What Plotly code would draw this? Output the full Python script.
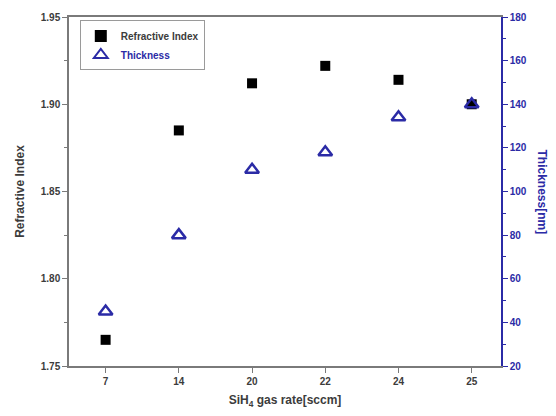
import plotly.graph_objects as go

categories = ["7", "14", "20", "22", "24", "25"]
refractive_index = [1.765, 1.885, 1.912, 1.922, 1.914, 1.900]
thickness = [45, 80, 110, 118, 134, 140]

BLUE = "#2b2ba6"
GRAY = "#3c3c3c"
AX = "#7a7a7a"

fig = go.Figure()
fig.add_trace(go.Scatter(
    x=categories, y=refractive_index, mode="markers", name="Refractive Index",
    marker=dict(symbol="square", size=10, color="black"),
))
fig.add_trace(go.Scatter(
    x=categories, y=thickness, mode="markers", name="<span style='color:#2b2ba6'>Thickness</span>", yaxis="y2",
    marker=dict(symbol="triangle-up-open", size=12, color=BLUE, line=dict(width=2.5, color=BLUE)),
))

fig.update_layout(
    width=556, height=416,
    margin=dict(l=69, r=55, t=11, b=48),
    paper_bgcolor="white", plot_bgcolor="white",
    font=dict(family="Liberation Sans, Arial", color=GRAY, size=10),
    showlegend=True,
    legend=dict(
        x=0.025, y=0.99, xanchor="left", yanchor="top",
        bordercolor="#9a9a9a", borderwidth=1, bgcolor="white",
        font=dict(size=10, color=GRAY, family="Liberation Sans, Arial", weight="bold"),
        tracegroupgap=0, itemsizing="constant", itemwidth=30,
    ),
    xaxis=dict(
        type="category", range=[-0.5, 5.4],
        showline=True, linecolor=AX, linewidth=1.5, mirror=True,
        ticks="outside", ticklen=5, tickcolor=AX,
        showgrid=False, zeroline=False,
        tickfont=dict(size=10, color=GRAY, weight="bold"),
        title=dict(text="<b>SiH<sub>4</sub> gas rate[sccm]</b>", font=dict(size=12, color=GRAY), standoff=10),
    ),
    yaxis=dict(
        range=[1.75, 1.95], dtick=0.05, tickformat=".2f",
        showline=True, linecolor=AX, linewidth=1.5,
        ticks="outside", ticklen=5, tickcolor=AX,
        minor=dict(dtick=0.025, ticks="outside", ticklen=3, tickcolor=AX),
        showgrid=False, zeroline=False,
        tickfont=dict(size=10, color=GRAY, weight="bold"),
        title=dict(text="<b>Refractive Index</b>", font=dict(size=12, color=GRAY), standoff=14),
    ),
    yaxis2=dict(
        overlaying="y", side="right", range=[20, 180], dtick=20,
        showline=True, linecolor=BLUE, linewidth=1.5,
        ticks="outside", ticklen=5, tickcolor=BLUE,
        minor=dict(dtick=10, ticks="outside", ticklen=3, tickcolor=BLUE),
        showgrid=False, zeroline=False,
        tickfont=dict(size=10, color=BLUE, weight="bold"),
    ),
    annotations=[dict(
        text="<b>Thickness[nm]</b>", xref="paper", yref="paper", x=1.0, y=0.5,
        xshift=50, textangle=90, showarrow=False,
        font=dict(size=12, color=BLUE),
    )],
)

fig.write_html("out.html")
